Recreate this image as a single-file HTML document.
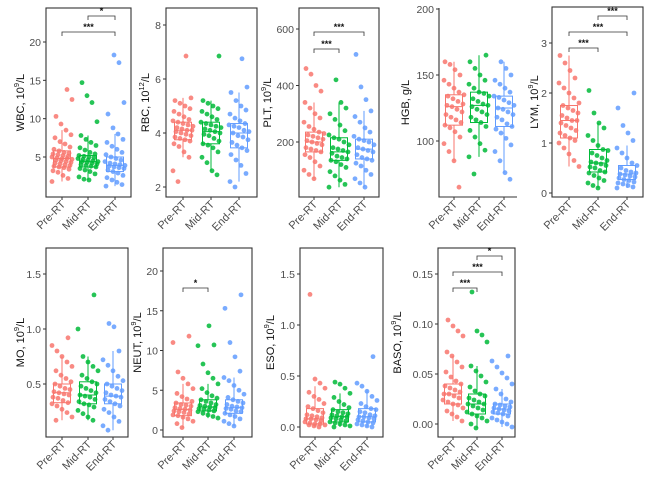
<!DOCTYPE html>
<html><head><meta charset="utf-8"><style>
body{margin:0;background:#fff;width:645px;height:477px;overflow:hidden}
svg{font-family:"Liberation Sans",Arial,sans-serif;display:block}
</style></head><body>
<svg id="chart" width="645" height="477" viewBox="0 0 645 477"></svg>
<script>
const groups = ["Pre-RT","Mid-RT","End-RT"];
const colors = ["#F8766D","#00BA38","#619CFF"];
const panelNames = ["WBC","RBC","PLT","HGB","LYM","MO","NEUT","ESO","BASO"];
const panelUnits = ["9","12","9","","9","9","9","9","9"];
const wbcPre = [1.8,2.2,2.6,3.0,3.2,3.4,3.6,3.7,3.8,3.9,4.0,4.1,4.2,4.3,4.4,4.5,4.6,4.7,4.8,4.8,4.9,5.0,5.1,5.2,5.3,5.4,5.5,5.6,5.8,6.0,6.3,6.7,7.0,7.5,7.9,8.5,9.3,10.3,12.5,13.8];
const wbcMid = [2.0,2.1,2.4,2.8,3.1,3.3,3.5,3.7,3.8,3.9,4.0,4.1,4.2,4.3,4.4,4.4,4.5,4.6,4.7,4.8,4.9,5.0,5.1,5.2,5.4,5.6,5.9,6.2,6.5,6.9,7.3,7.8,9.6,12.1,13.0,14.7];
const wbcEnd = [1.2,1.4,1.7,2.0,2.3,2.6,2.9,3.1,3.3,3.5,3.6,3.7,3.8,3.9,4.0,4.1,4.2,4.4,4.6,4.8,5.0,5.3,5.6,6.0,6.4,6.9,7.3,8.0,8.8,10.6,12.1,17.3,18.3];
const rbcPre = [2.2,2.6,3.1,3.3,3.5,3.6,3.7,3.75,3.8,3.85,3.9,3.95,4.0,4.05,4.1,4.1,4.15,4.2,4.25,4.3,4.35,4.4,4.45,4.5,4.6,4.7,4.8,4.9,5.0,5.1,5.2,5.3,6.85];
const rbcMid = [2.45,2.6,2.9,3.1,3.3,3.45,3.55,3.6,3.7,3.8,3.9,3.95,4.0,4.05,4.1,4.15,4.2,4.25,4.3,4.35,4.4,4.5,4.6,4.7,4.8,4.9,5.0,5.1,5.2,6.85];
const rbcEnd = [2.0,2.2,2.5,2.8,3.0,3.2,3.35,3.45,3.55,3.65,3.75,3.85,3.9,4.0,4.05,4.1,4.2,4.25,4.3,4.35,4.45,4.55,4.7,4.85,5.0,5.2,5.5,5.7,6.75];
const pltPre = [70,85,100,115,130,145,155,165,170,175,180,190,195,200,205,210,215,220,225,230,235,245,255,270,285,300,320,340,380,400,440,460];
const pltMid = [40,50,65,80,95,110,120,130,135,140,145,150,160,165,170,175,180,190,200,210,215,225,240,260,280,300,320,340,420];
const pltEnd = [40,55,70,85,100,115,125,135,140,145,155,165,170,175,180,190,200,205,210,220,235,250,270,290,310,350,395,510];
const hgbPre = [65,85,92,98,103,107,110,112,114,116,118,120,122,124,126,127,128,130,132,134,135,137,140,143,146,150,154,158,160];
const hgbMid = [75,88,93,98,103,108,111,114,116,118,120,122,124,126,127,128,130,132,134,136,137,140,143,146,150,155,160,165];
const hgbEnd = [71,76,85,92,97,102,106,109,111,113,116,118,120,122,124,125,127,129,131,133,134,137,140,143,146,150,155,160];
const lymPre = [0.53,0.65,0.78,0.9,1.0,1.05,1.1,1.15,1.2,1.25,1.3,1.35,1.4,1.45,1.45,1.5,1.55,1.6,1.65,1.7,1.75,1.8,1.9,2.0,2.1,2.2,2.3,2.45,2.6,2.75];
const lymMid = [0.1,0.15,0.2,0.25,0.3,0.35,0.4,0.42,0.45,0.5,0.52,0.55,0.58,0.6,0.62,0.65,0.7,0.75,0.8,0.85,0.87,0.95,1.05,1.15,1.3,1.4,1.6,2.05];
const lymEnd = [0.1,0.12,0.15,0.18,0.2,0.22,0.25,0.27,0.3,0.32,0.34,0.36,0.38,0.4,0.42,0.45,0.5,0.55,0.6,0.7,0.8,0.9,1.05,1.2,1.35,1.7,2.0];
const moPre = [0.17,0.2,0.24,0.27,0.3,0.32,0.33,0.35,0.37,0.38,0.4,0.41,0.42,0.43,0.45,0.46,0.48,0.5,0.52,0.55,0.58,0.62,0.66,0.7,0.75,0.8,0.85,0.92];
const moMid = [0.17,0.2,0.23,0.26,0.29,0.31,0.32,0.34,0.36,0.38,0.39,0.4,0.42,0.44,0.46,0.48,0.5,0.52,0.55,0.58,0.62,0.66,0.7,0.75,1.0,1.31];
const moEnd = [0.08,0.12,0.16,0.2,0.24,0.27,0.3,0.32,0.34,0.36,0.38,0.39,0.4,0.42,0.44,0.46,0.48,0.5,0.53,0.57,0.62,0.67,0.72,0.8,1.02,1.05];
const neutPre = [0.3,0.8,1.1,1.4,1.6,1.8,1.9,2.0,2.2,2.3,2.4,2.5,2.6,2.7,2.8,3.0,3.1,3.2,3.4,3.6,3.9,4.2,4.6,5.2,5.8,6.5,7.3,11.0,11.8];
const neutMid = [1.5,1.7,1.9,2.1,2.3,2.4,2.5,2.6,2.7,2.8,2.9,3.0,3.1,3.2,3.4,3.6,3.8,4.0,4.3,4.7,5.2,5.8,6.5,7.2,8.3,10.6,10.7,13.1];
const neutEnd = [0.5,0.8,1.1,1.4,1.7,1.9,2.1,2.3,2.4,2.6,2.7,2.8,2.9,3.0,3.2,3.4,3.6,3.8,4.1,4.5,5.0,5.6,6.2,6.6,7.4,9.2,11.0,15.3,17.0];
const esoPre = [0.0,0.01,0.02,0.02,0.03,0.03,0.04,0.05,0.06,0.07,0.08,0.08,0.09,0.1,0.11,0.12,0.14,0.16,0.18,0.2,0.23,0.27,0.3,0.34,0.38,0.43,0.47,1.3];
const esoMid = [0.0,0.01,0.02,0.03,0.04,0.05,0.06,0.07,0.08,0.09,0.1,0.1,0.11,0.12,0.13,0.14,0.15,0.17,0.19,0.22,0.25,0.29,0.33,0.38,0.42,0.44];
const esoEnd = [0.0,0.01,0.02,0.03,0.04,0.05,0.06,0.07,0.08,0.09,0.1,0.1,0.11,0.12,0.14,0.15,0.17,0.18,0.2,0.23,0.26,0.3,0.35,0.4,0.43,0.69];
const basoPre = [0.003,0.007,0.01,0.013,0.016,0.019,0.02,0.022,0.024,0.026,0.028,0.03,0.03,0.032,0.034,0.036,0.038,0.04,0.043,0.047,0.052,0.057,0.062,0.068,0.072,0.088,0.093,0.098,0.104];
const basoMid = [-0.004,0.0,0.003,0.006,0.008,0.01,0.012,0.014,0.016,0.018,0.02,0.02,0.022,0.024,0.026,0.028,0.03,0.033,0.037,0.042,0.048,0.053,0.058,0.082,0.089,0.093,0.132];
const basoEnd = [-0.003,0.0,0.002,0.004,0.006,0.008,0.01,0.011,0.012,0.013,0.014,0.015,0.016,0.017,0.018,0.019,0.02,0.022,0.025,0.03,0.035,0.04,0.046,0.051,0.057,0.063,0.068];
const wbcBox = [[1.8,3.7,4.8,5.8,8.5],[2.0,3.7,4.4,5.2,7.8],[1.2,3.1,3.9,5.0,8.0]];
const rbcBox = [[3.1,3.75,4.1,4.4,5.3],[2.6,3.6,4.05,4.4,5.2],[2.2,3.45,4.0,4.35,5.5]];
const pltBox = [[70,165,200,235,340],[40,135,165,215,340],[40,140,175,210,310]];
const hgbBox = [[85,112,126,135,160],[88,114,127,137,165],[76,111,125,134,160]];
const lymBox = [[0.53,1.1,1.45,1.75,2.75],[0.1,0.42,0.6,0.87,1.4],[0.1,0.27,0.38,0.55,0.95]];
const moBox = [[0.17,0.33,0.42,0.5,0.75],[0.17,0.32,0.4,0.52,0.75],[0.08,0.32,0.39,0.5,0.8]];
const neutBox = [[0.3,1.8,2.6,3.4,5.8],[1.5,2.4,2.9,3.8,5.8],[0.5,2.1,2.8,3.8,6.6]];
const esoBox = [[0,0.03,0.08,0.18,0.4],[0,0.05,0.1,0.17,0.33],[0,0.05,0.1,0.18,0.36]];
const basoBox = [[0.003,0.02,0.03,0.04,0.068],[-0.004,0.01,0.02,0.03,0.058],[-0.003,0.01,0.015,0.02,0.035]];
const wbcTicks = [5,10,15,20];
const rbcTicks = [2,4,6,8];
const pltTicks = [200,400,600];
const hgbTicks = [100,150,200];
const lymTicks = [0,1,2,3];
const moTicks = ["0.5","1.0","1.5"];
const neutTicks = [0,5,10,15,20];
const esoTicks = ["0.0","0.5","1.0","1.5"];
const basoTicks = ["0.00","0.05","0.10","0.15"];
const wbcSig = [[0,2,"***"],[1,2,"*"]];
const pltSig = [[0,1,"***"],[0,2,"***"]];
const lymSig = [[0,1,"***"],[0,2,"***"],[1,2,"***"]];
const neutSig = [[0,1,"*"]];
const basoSig = [[0,1,"***"],[0,2,"***"],[1,2,"*"]];

const layouts = [
 {key:"wbc",vals:[wbcPre,wbcMid,wbcEnd],box:wbcBox,ticks:wbcTicks,sig:wbcSig,x0:46,x1:131,y0:8,y1:197,cx:[62,88,115],cal:[5,157,20,42],tx:20,frame:true,sigY:[32,16]},
 {key:"rbc",vals:[rbcPre,rbcMid,rbcEnd],box:rbcBox,ticks:rbcTicks,sig:[],x0:166,x1:257,y0:8,y1:197,cx:[183,211,239],cal:[2,187,8,25],tx:145,frame:true},
 {key:"plt",vals:[pltPre,pltMid,pltEnd],box:pltBox,ticks:pltTicks,sig:pltSig,x0:299,x1:379,y0:8,y1:197,cx:[314,339,364],cal:[200,142,600,29],tx:267,frame:true,sigY:[49,32]},
 {key:"hgb",vals:[hgbPre,hgbMid,hgbEnd],box:hgbBox,ticks:hgbTicks,sig:[],x0:439,x1:517,y0:8,y1:197,cx:[454,479,504],cal:[100,141,200,9],tx:405,frame:false},
 {key:"lym",vals:[lymPre,lymMid,lymEnd],box:lymBox,ticks:lymTicks,sig:lymSig,x0:552,x1:643,y0:7,y1:197,cx:[569,598,627],cal:[0,193,3,43],tx:534,frame:true,sigY:[48,32,16]},
 {key:"mo",vals:[moPre,moMid,moEnd],box:moBox,ticks:moTicks,sig:[],x0:46,x1:128,y0:248,y1:437,cx:[62,88,113],cal:[0.5,384,1.5,274],tx:20,frame:true},
 {key:"neut",vals:[neutPre,neutMid,neutEnd],box:neutBox,ticks:neutTicks,sig:neutSig,x0:163,x1:252,y0:248,y1:437,cx:[183,208,234],cal:[0,430,20,271],tx:137,frame:true,sigY:[288]},
 {key:"eso",vals:[esoPre,esoMid,esoEnd],box:esoBox,ticks:esoTicks,sig:[],x0:300,x1:383,y0:248,y1:437,cx:[315,340,367],cal:[0,427,1.5,274],tx:270,frame:true},
 {key:"baso",vals:[basoPre,basoMid,basoEnd],box:basoBox,ticks:basoTicks,sig:basoSig,x0:438,x1:515,y0:248,y1:437,cx:[453,477,502],cal:[0,424,0.15,274],tx:397,frame:true,sigY:[288,272,256]}
];
const NS="http://www.w3.org/2000/svg";
const svg=document.getElementById("chart");
function mk(tag,attrs,parent){const e=document.createElementNS(NS,tag);for(const k in attrs)e.setAttribute(k,attrs[k]);(parent||svg).appendChild(e);return e;}

layouts.forEach((L,pi)=>{
  const g=mk("g",{});
  
  
  const [v0,p0,v1,p1]=L.cal;
  const y=v=>p0+(v-v0)*(p1-p0)/(v1-v0);
  if(L.frame){
    const r=mk("rect",{x:L.x0,y:L.y0,width:L.x1-L.x0,height:L.y1-L.y0,fill:"none",stroke:"#333","stroke-width":1.1},g);
    
    
  } else {
    const a=mk("path",{d:`M${L.x0},${L.y0}V${L.y1}H${L.x1}`,fill:"none",stroke:"#333","stroke-width":1.1},g);
    
    
  }
  L.ticks.forEach(t=>{
    const yy=y(parseFloat(t));
    const tl=mk("line",{x1:L.x0-3,x2:L.x0,y1:yy,y2:yy,stroke:"#333"},g);
    
    
    const tt=mk("text",{x:L.x0-5,y:yy+4,"text-anchor":"end","font-size":10.5,fill:"#4d4d4d"},g);
    tt.textContent=String(t);
    
    
  });
  const cy=(L.y0+L.y1)/2;
  const yt=mk("text",{x:L.tx+4,y:cy,"text-anchor":"middle","font-size":11,fill:"#111",transform:`rotate(-90 ${L.tx+4} ${cy})`},g);
  
  
  const nm=panelNames[pi], u=panelUnits[pi];
  if(u){ yt.innerHTML=`${nm}, 10<tspan font-size="7.5" dy="-5">${u}</tspan><tspan dy="5">/L</tspan>`; }
  else { yt.textContent=`${nm}, g/L`; }
  groups.forEach((gn,gi)=>{
    const x=L.cx[gi];
    const xl=mk("line",{x1:x,x2:x,y1:L.y1,y2:L.y1+3,stroke:"#333"},g);
    
    
    const lx=x+4, ly=L.y1+8;
    const xt=mk("text",{x:lx,y:ly,"text-anchor":"end","font-size":11,fill:"#4d4d4d",transform:`rotate(-45 ${lx} ${ly})`},g);
    xt.textContent=gn;
    
    
  });
  L.box.forEach((b,gi)=>{
    const x=L.cx[gi], w=17, c=colors[gi];
    const bg=mk("g",{stroke:c,fill:"none","stroke-width":1},g);
    
    
    mk("line",{x1:x,x2:x,y1:y(b[0]),y2:y(b[1])},bg);
    mk("line",{x1:x,x2:x,y1:y(b[3]),y2:y(b[4])},bg);
    mk("rect",{x:x-w/2,y:y(b[3]),width:w,height:y(b[1])-y(b[3])},bg);
    mk("line",{x1:x-w/2,x2:x+w/2,y1:y(b[2]),y2:y(b[2])},bg);
  });
  L.vals.forEach((arr,gi)=>{
    arr.forEach((v,i)=>{
      const off=(((i*37+gi*11+pi*5)%21)-10)*1.0;
      const p=mk("circle",{cx:L.cx[gi]+off,cy:y(v),r:2.4,fill:colors[gi],"fill-opacity":0.85},g);
      
      
    });
  });
  (L.sig||[]).forEach((s,si)=>{
    const yy=L.sigY[si], xa=L.cx[s[0]], xb=L.cx[s[1]];
    const br=mk("path",{d:`M${xa},${yy+4}V${yy}H${xb}V${yy+4}`,fill:"none",stroke:"#333","stroke-width":0.8},g);
    
    
    const st=mk("text",{x:(xa+xb)/2,y:yy-2,"text-anchor":"middle","font-size":9,"font-weight":"bold",fill:"#111"},g);
    st.textContent=s[2];
    
    
  });
});
</script>
</body></html>
